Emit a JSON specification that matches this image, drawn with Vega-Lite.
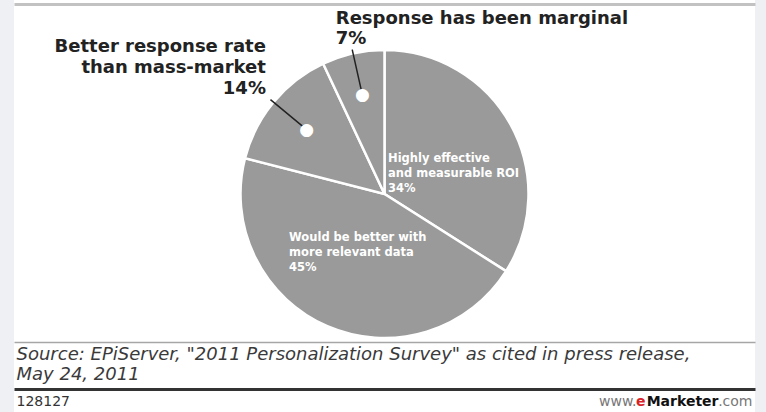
{
  "$schema": "https://vega.github.io/schema/vega-lite/v6.json",
  "width": 741,
  "height": 412,
  "autosize": "none",
  "padding": {"left": 14, "top": 0, "right": 11, "bottom": 0},
  "background": "#eef0f3",
  "config": {"view": {"fill": "#ffffff", "stroke": null}},
  "data": {
    "values": [
      {"answer": "Highly effective and measurable ROI", "value": 34, "order": 1, "label": ["Highly effective", "and measurable ROI", "34%"]},
      {"answer": "Would be better with more relevant data", "value": 45, "order": 2, "label": ["Would be better with", "more relevant data", "45%"]},
      {"answer": "Better response rate than mass-market", "value": 14, "order": 3, "label": ["Better response rate", "than mass-market", "14%"]},
      {"answer": "Response has been marginal", "value": 7, "order": 4, "label": ["Response has been marginal", "7%"]}
    ]
  },
  "encoding": {
    "theta": {"field": "value", "type": "quantitative", "stack": true},
    "order": {"field": "order", "type": "quantitative"},
    "x": {
      "datum": 370.5,
      "type": "quantitative",
      "scale": {"domain": [0, 741], "nice": false, "zero": false},
      "axis": {
        "orient": "bottom",
        "domain": false,
        "ticks": false,
        "tickSize": 0,
        "grid": false,
        "title": null,
        "values": [2, 622, 631, 704, 738],
        "labelExpr": "datum.value == 2 ? '128127' : datum.value == 622 ? 'www.' : datum.value == 631 ? 'e' : datum.value == 704 ? 'Marketer' : '.com'",
        "labelAlign": {"condition": {"test": "datum.value == 2", "value": "left"}, "value": "right"},
        "labelColor": {"condition": [{"test": "datum.value == 631", "value": "#d8232a"}, {"test": "datum.value == 704", "value": "#111111"}, {"test": "datum.value == 2", "value": "#333333"}], "value": "#777777"},
        "labelFontWeight": {"condition": {"test": "datum.value == 631 || datum.value == 704", "value": "bold"}, "value": "normal"},
        "labelFont": "DejaVu Sans",
        "labelFontSize": 14,
        "labelBaseline": "top",
        "labelPadding": -18,
        "labelOverlap": false,
        "labelFlush": false,
        "labelBound": false
      }
    },
    "y": {
      "datum": 194,
      "type": "quantitative",
      "scale": {"domain": [0, 412], "reverse": true, "nice": false, "zero": false},
      "axis": {
        "domain": false,
        "ticks": false,
        "labels": false,
        "grid": true,
        "values": [4, 342, 389],
        "gridColor": {"condition": [{"test": "datum.value == 389", "value": "#333333"}, {"test": "datum.value == 4", "value": "#c2c2c2"}], "value": "#a6a6a6"},
        "gridWidth": {"condition": [{"test": "datum.value == 389", "value": 3}, {"test": "datum.value == 4", "value": 3}], "value": 1.5},
        "title": ["Source: EPiServer, \"2011 Personalization Survey\" as cited in press release,", "May 24, 2011"],
        "titleAngle": 0,
        "titleAlign": "left",
        "titleBaseline": "top",
        "titleX": 2,
        "titleY": 345,
        "titleFont": "DejaVu Sans",
        "titleFontStyle": "italic",
        "titleFontWeight": "normal",
        "titleFontSize": 18,
        "titleLineHeight": 20,
        "titleColor": "#3a3a3a"
      }
    }
  },
  "layer": [
    {
      "mark": {"type": "arc", "outerRadius": 144, "fill": "#9a9a9a", "stroke": "#ffffff", "strokeWidth": 2.5}
    },
    {
      "mark": {"type": "arc", "outerRadius": 148, "innerRadius": 101, "padAngle": 3, "fillOpacity": 0, "stroke": "#222222", "strokeWidth": 1.5},
      "encoding": {"strokeOpacity": {"condition": {"test": "datum.value < 20", "value": 1}, "value": 0}}
    },
    {
      "mark": {"type": "text", "radius": 101, "text": "●", "font": "DejaVu Sans", "fontSize": 17, "fill": "#ffffff", "align": "center", "baseline": "middle"},
      "encoding": {"opacity": {"condition": {"test": "datum.value < 20", "value": 1}, "value": 0}}
    },
    {
      "mark": {"type": "text", "radius": 150, "align": "left", "baseline": "bottom", "dx": -16, "dy": -20, "font": "DejaVu Sans", "fontWeight": "bold", "fontSize": 18, "lineHeight": 20, "fill": "#222222"},
      "encoding": {
        "text": {"field": "label", "type": "nominal"},
        "opacity": {"condition": {"test": "datum.value < 10", "value": 1}, "value": 0}
      }
    },
    {
      "mark": {"type": "text", "radius": 150, "align": "right", "baseline": "bottom", "dx": -3, "dy": -42, "font": "DejaVu Sans", "fontWeight": "bold", "fontSize": 18, "lineHeight": 21, "fill": "#222222"},
      "encoding": {
        "text": {"field": "label", "type": "nominal"},
        "opacity": {"condition": {"test": "datum.value >= 10 && datum.value < 20", "value": 1}, "value": 0}
      }
    },
    {
      "mark": {"type": "text", "radius": 20, "align": "left", "baseline": "middle", "dx": -14, "dy": -25, "font": "DejaVu Sans", "fontWeight": "bold", "fontSize": 11.5, "lineHeight": 15, "fill": "#ffffff"},
      "encoding": {
        "text": {"field": "label", "type": "nominal"},
        "opacity": {"condition": {"test": "datum.value >= 20 && datum.value < 40", "value": 1}, "value": 0}
      }
    },
    {
      "mark": {"type": "text", "radius": 64, "align": "left", "baseline": "middle", "dx": -70, "dy": -15, "font": "DejaVu Sans", "fontWeight": "bold", "fontSize": 11.5, "lineHeight": 15, "fill": "#ffffff"},
      "encoding": {
        "text": {"field": "label", "type": "nominal"},
        "opacity": {"condition": {"test": "datum.value >= 40", "value": 1}, "value": 0}
      }
    }
  ]
}
